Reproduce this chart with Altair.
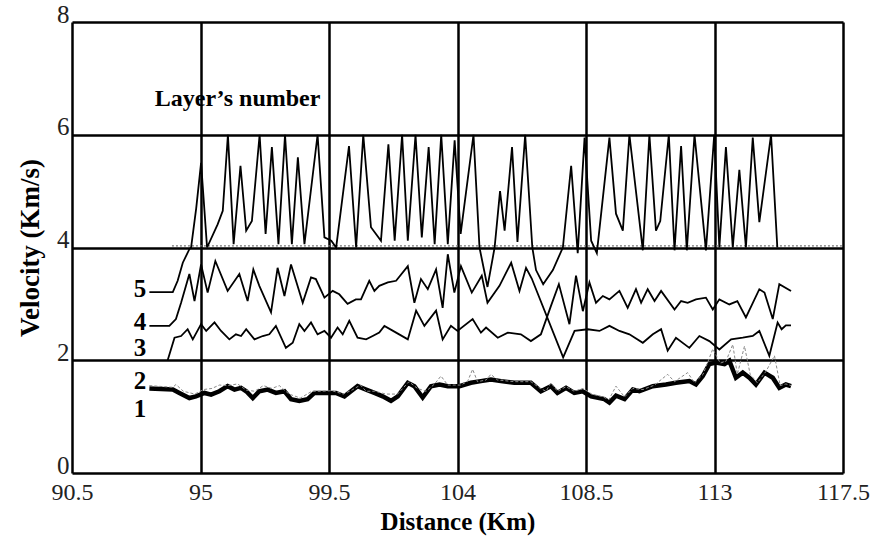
import altair as alt
import pandas as pd

# ---------------- data ----------------
L5_x = [93.21, 94.03, 94.2, 94.38, 94.61, 94.67, 94.85, 95.02, 95.23, 95.6, 95.78, 95.96, 96.16, 96.4, 96.6, 96.8,
        97.07, 97.28, 97.5, 97.73, 97.96, 98.2, 98.41, 98.64, 99.1, 99.34, 99.58, 99.75, 100.2, 100.45, 100.7,
        100.97, 101.32, 101.58, 101.8, 102.06, 102.26, 102.53, 102.75, 102.99, 103.2, 103.43, 103.66, 103.9,
        104.11, 104.56, 104.77, 105.05, 105.3, 105.49, 105.65, 105.91, 106.1, 106.37, 106.62, 106.75, 107.0,
        107.34, 107.69, 107.98, 108.21, 108.45, 108.68, 108.88, 109.32, 109.55, 109.79, 110.02, 110.49, 110.72,
        110.95, 111.1, 111.4, 111.6, 111.83, 112.03, 112.3, 112.7, 112.99, 113.17, 113.4, 113.64, 113.87, 114.1,
        114.34, 114.57, 114.98, 115.2]
L5_y = [3.21, 3.21, 3.41, 3.73, 3.97, 4.0, 4.7, 5.5, 4.0, 4.41, 4.65, 6.0, 4.06, 5.45, 4.3, 4.47,
        6.0, 4.24, 5.78, 4.06, 6.0, 4.06, 5.6, 4.06, 6.0, 4.18, 4.12, 4.0, 5.8, 4.0, 6.0,
        4.36, 4.12, 5.83, 4.12, 6.0, 4.12, 6.0, 4.18, 5.78, 4.06, 6.0, 4.06, 5.9,
        4.24, 6.0, 4.0, 3.3, 4.0, 5.0, 4.3, 5.78, 4.1, 6.0, 4.0, 3.6, 3.35,
        3.6, 4.0, 5.45, 3.9, 5.95, 4.12, 3.9, 5.95, 4.6, 4.3, 6.0, 3.95, 6.0,
        4.3, 4.47, 6.0, 3.95, 5.8, 3.95, 6.0, 3.95, 6.0, 4.0, 5.78, 4.0, 5.38, 4.0,
        5.95, 4.45, 6.0, 4.0]

L4_x = [93.21, 93.91, 94.14, 94.32, 94.61, 94.79, 95.02, 95.25, 95.52, 95.95, 96.36, 96.65, 96.85, 97.06, 97.47,
        97.7, 97.94, 98.17, 98.58, 98.87, 99.04, 99.34, 99.63, 99.86, 100.15, 100.44, 100.62, 100.91, 101.09,
        101.26, 101.56, 101.85, 102.26, 102.49, 102.72, 102.96, 103.25, 103.48, 103.66, 103.89, 104.12, 104.5,
        104.85, 105.05, 105.47, 105.88, 106.17, 106.4, 106.6, 107.7, 108.1, 108.56, 108.97, 109.32, 109.67,
        110.02, 110.49, 110.84, 111.13, 111.36, 111.65, 112.12, 112.47, 112.82, 113.17, 113.58, 113.99, 114.34,
        114.57, 114.92, 115.21, 115.35, 115.5, 115.68]
L4_y = [2.61, 2.61, 2.73, 3.02, 3.53, 3.05, 3.7, 3.2, 3.76, 3.23, 3.53, 3.05, 3.61, 3.32, 2.85,
        3.64, 3.14, 3.7, 3.02, 3.47, 3.44, 3.11, 3.23, 3.17, 3.0, 3.08, 3.08, 3.41, 3.23,
        3.32, 3.38, 3.41, 3.67, 3.02, 3.44, 3.26, 3.61, 2.93, 3.88, 3.2, 3.67, 3.2,
        3.5, 3.02, 3.32, 3.73, 3.23, 3.64, 3.45, 2.05, 2.52, 2.55, 2.52, 2.61, 2.52,
        2.46, 2.31, 2.46, 2.55, 2.17, 2.4, 2.22, 2.43, 2.34, 2.19, 2.37, 2.4, 2.43,
        2.52, 2.08, 2.67, 2.55, 2.62, 2.62]

L3_x = [93.85, 94.09, 94.32, 94.55, 94.73, 95.02, 95.2, 95.49, 95.72, 96.01, 96.24, 96.42, 96.6, 96.89, 97.18,
        97.41, 97.64, 97.99, 98.23, 98.46, 98.64, 98.87, 99.1, 99.34, 99.57, 99.8, 99.98, 100.21, 100.5, 100.8,
        101.03, 101.26, 101.44, 101.85, 102.26, 102.55, 102.84, 103.25, 103.48, 103.77, 104.0, 104.53, 104.82,
        105.0, 105.41, 105.76, 106.22, 106.57, 106.92, 107.27, 107.55, 107.92, 108.15, 108.39, 108.62, 108.85,
        109.09, 109.32, 109.67, 109.96, 110.25, 110.43, 110.66, 110.9, 111.13, 111.6, 111.83, 112.06, 112.35,
        112.7, 112.94, 113.17, 113.52, 113.8, 114.1, 114.57, 114.75, 115.04, 115.27, 115.68]
L3_y = [2.0, 2.4, 2.43, 2.55, 2.37, 2.64, 2.52, 2.67, 2.52, 2.37, 2.46, 2.43, 2.55, 2.37, 2.43,
        2.46, 2.61, 2.22, 2.31, 2.64, 2.52, 2.67, 2.46, 2.52, 2.4, 2.58, 2.46, 2.7, 2.4, 2.37,
        2.43, 2.49, 2.61, 2.49, 2.37, 2.88, 2.61, 2.88, 2.37, 2.61, 2.52, 2.73, 2.49,
        2.58, 2.4, 2.49, 2.46, 2.34, 2.46, 2.96, 3.35, 2.64, 3.5, 2.87, 3.38, 3.02,
        3.14, 3.08, 3.23, 2.93, 3.26, 3.02, 3.26, 3.05, 3.23, 2.9, 3.05, 3.02, 3.08,
        3.11, 2.9, 3.08, 2.99, 3.05, 2.76, 3.26, 3.2, 2.73, 3.35, 3.23]

L2_x = [93.21, 94.03, 94.14, 94.4, 94.8, 95.1, 95.4, 95.66, 95.95, 96.3, 96.6, 96.9, 97.2, 97.5, 97.76, 98.1,
        98.5, 98.9, 99.2, 99.6, 100.0, 100.3, 100.6, 100.8, 101.1, 101.5, 101.9, 102.3, 102.6, 102.9, 103.2,
        103.42, 103.66, 104.1, 104.35, 104.53, 104.7, 105.0, 105.17, 105.4, 106.0, 106.57, 106.9, 107.1, 107.27,
        107.5, 107.8, 108.09, 108.4, 108.7, 109.1, 109.3, 109.55, 109.85, 110.14, 110.5, 110.9, 111.36, 111.6,
        112.06, 112.3, 112.6, 112.94, 113.2, 113.4, 113.64, 113.8, 114.05, 114.25, 114.5, 114.8, 115.1, 115.3,
        115.5, 115.68]
L2_y = [1.55, 1.52, 1.57, 1.45, 1.4, 1.48, 1.5, 1.56, 1.55, 1.58, 1.47, 1.45, 1.55, 1.5, 1.55, 1.4,
        1.33, 1.45, 1.45, 1.46, 1.4, 1.47, 1.56, 1.45, 1.45, 1.4, 1.4, 1.62, 1.5, 1.45, 1.58,
        1.72, 1.56, 1.56, 1.62, 1.84, 1.62, 1.65, 1.75, 1.65, 1.62, 1.62, 1.5, 1.45, 1.6,
        1.45, 1.53, 1.45, 1.5, 1.4, 1.35, 1.3, 1.54, 1.35, 1.5, 1.48, 1.56, 1.75, 1.62,
        1.78, 1.6, 1.75, 2.2, 1.95, 1.98, 2.28, 1.75, 2.25, 1.75, 1.6, 1.8, 2.08, 1.55,
        1.58, 1.55]

L1_x = [93.21, 94.03, 94.26, 94.61, 94.84, 95.14, 95.37, 95.66, 95.95, 96.19, 96.42, 96.6, 96.83, 97.06, 97.35,
        97.64, 97.94, 98.17, 98.46, 98.75, 98.99, 99.4, 99.74, 100.04, 100.27, 100.5, 100.8, 101.09, 101.38,
        101.67, 101.91, 102.26, 102.49, 102.78, 103.07, 103.37, 103.66, 104.07, 104.47, 104.82, 105.17, 105.52,
        105.99, 106.57, 106.92, 107.27, 107.5, 107.8, 108.09, 108.38, 108.68, 109.14, 109.32, 109.55, 109.85,
        110.14, 110.37, 110.84, 111.3, 111.65, 112.12, 112.35, 112.59, 112.82, 113.05, 113.35, 113.52, 113.75,
        113.99, 114.22, 114.45, 114.75, 115.04, 115.27, 115.5, 115.68]
L1_y = [1.5, 1.48, 1.42, 1.33, 1.36, 1.42, 1.39, 1.45, 1.54, 1.48, 1.51, 1.45, 1.33, 1.45, 1.48,
        1.42, 1.45, 1.31, 1.28, 1.31, 1.42, 1.42, 1.42, 1.36, 1.45, 1.54, 1.48, 1.42, 1.36,
        1.28, 1.36, 1.6, 1.54, 1.34, 1.54, 1.57, 1.54, 1.54, 1.6, 1.63, 1.66, 1.63,
        1.6, 1.6, 1.45, 1.54, 1.42, 1.51, 1.42, 1.45, 1.36, 1.31, 1.25, 1.37, 1.31,
        1.48, 1.45, 1.54, 1.57, 1.6, 1.63, 1.57, 1.72, 1.93, 1.96, 1.93, 1.99, 1.69,
        1.78, 1.69, 1.57, 1.78, 1.69, 1.51, 1.57, 1.54]

base_x = [94.0, 117.5]
base_y = [4.03, 4.03]

layer_labels = ["5", "4", "3", "2", "1"]
layer_label_y = [3.26, 2.67, 2.22, 1.63, 1.13]
layer_label_x = [93.1, 93.1, 93.1, 93.1, 93.1]

note_text = ["Layer\u2019s number"]
note_x = [96.3]
note_y = [6.64]

x_ticks = [90.5, 95, 99.5, 104, 108.5, 113, 117.5]
y_ticks = [0, 2, 4, 6, 8]

# ---------------- chart ----------------
FONT = "Liberation Serif"
xs = alt.Scale(domain=[90.5, 117.5], nice=False, zero=False)
ys = alt.Scale(domain=[0, 8], nice=False)


def df(xv, yv):
    return pd.DataFrame({"x": xv, "y": yv})


xenc = alt.X("x:Q", scale=xs, title="Distance (Km)",
             axis=alt.Axis(values=x_ticks, labelExpr="toString(datum.value)", grid=True, gridColor="black",
                           gridWidth=2.5, gridOpacity=1, ticks=False, domain=False, labelFont=FONT,
                           labelFontSize=24, labelColor="#222", labelPadding=7, titleFont=FONT, titleFontSize=25,
                           titleFontWeight="bold", titleColor="black", titlePadding=5, labelFlush=False,
                           labelOverlap=False))
yenc = alt.Y("y:Q", scale=ys, title="Velocity (Km/s)",
             axis=alt.Axis(values=y_ticks, labelExpr="toString(datum.value)", grid=True, gridColor="black",
                           gridWidth=2.5, gridOpacity=1, ticks=False, domain=False, labelFont=FONT,
                           labelFontSize=25, labelColor="#222", labelPadding=3, labelBaseline="middle",
                           labelOffset=-8, titleFont=FONT, titleFontSize=27, titleFontWeight="bold",
                           titleColor="black", titlePadding=12, labelFlush=False, labelOverlap=False))

base_line = alt.Chart(df(base_x, base_y)).mark_line(color="#777", strokeWidth=1.2, strokeDash=[2, 2]).encode(
    x=xenc, y=yenc)
l5 = alt.Chart(df(L5_x, L5_y)).mark_line(color="black", strokeWidth=1.8).encode(x="x:Q", y="y:Q")
l4 = alt.Chart(df(L4_x, L4_y)).mark_line(color="black", strokeWidth=1.8).encode(x="x:Q", y="y:Q")
l3 = alt.Chart(df(L3_x, L3_y)).mark_line(color="black", strokeWidth=1.8).encode(x="x:Q", y="y:Q")
l1 = alt.Chart(df(L1_x, L1_y)).mark_line(color="black", strokeWidth=4.5).encode(x="x:Q", y="y:Q")
l2 = alt.Chart(df(L2_x, L2_y)).mark_line(color="#8a8a8a", strokeWidth=1.0, strokeDash=[3, 2]).encode(
    x="x:Q", y="y:Q")

labels = alt.Chart(pd.DataFrame({"x": layer_label_x, "y": layer_label_y, "t": layer_labels})).mark_text(
    font=FONT, fontSize=25, fontWeight="bold", align="right", baseline="middle", color="black").encode(
    x="x:Q", y="y:Q", text="t:N")
note = alt.Chart(pd.DataFrame({"x": note_x, "y": note_y, "t": note_text})).mark_text(
    font=FONT, fontSize=24, fontWeight="bold", align="center", baseline="middle", color="black").encode(
    x="x:Q", y="y:Q", text="t:N")

chart = alt.layer(base_line, l5, l4, l3, l1, l2, labels, note).properties(
    width=771, height=451, autosize="none",
    padding={"left": 72, "top": 22, "right": 35, "bottom": 76}
).configure_view(stroke="black", strokeWidth=3.5).configure(background="white")

chart.save("out.html", embed_options={"renderer": "svg", "actions": False})
